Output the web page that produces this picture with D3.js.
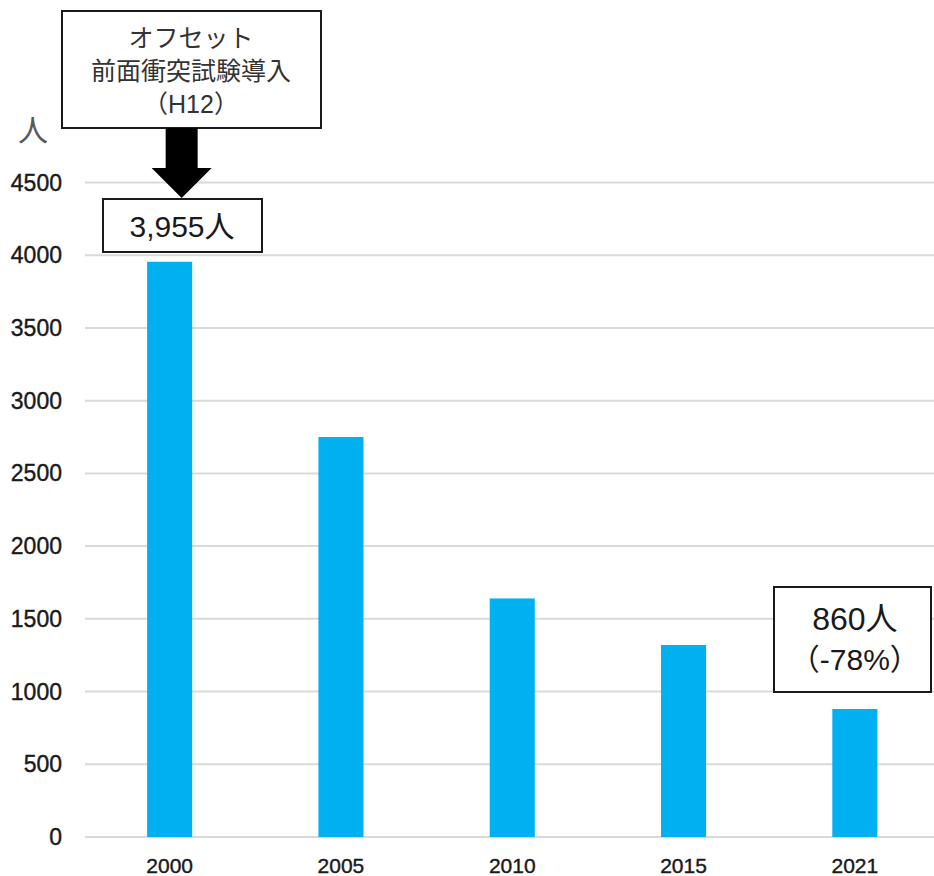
<!DOCTYPE html>
<html>
<head>
	<meta charset="utf-8">
	<title></title>
	<style>
		body { margin: 0; background: #fff; }
		svg text { font-family: "Liberation Sans", Arial, sans-serif; }
		.jp { font-family: "Liberation Sans", "Noto Sans CJK JP", sans-serif; }
		.grid line { stroke: #d9d9d9; stroke-width: 2; }
		.tick { fill: #1a1a1a; stroke: #1a1a1a; stroke-width: 0.4; }
	</style>
</head>
<body>
	<svg id="container" width="934" height="876"></svg>
</body>
<script src="https://d3js.org/d3.v7.min.js"></script>
<script>
	const years = ["2000", "2005", "2010", "2015", "2021"]
	const deaths = [3955, 2750, 1640, 1320, 880]
	const yTicks = [0, 500, 1000, 1500, 2000, 2500, 3000, 3500, 4000, 4500]
	const noteTop = ["オフセット", "前面衝突試験導入", "（H12）"]
	const noteFirst = "3,955人"
	const noteLast = ["860人", "（-78%）"]

	const svg = d3.select("#container")
	const data = years.map((y, i) => ({ year: y, value: deaths[i] }))

	let y = d3.scaleLinear()
		.domain([0, 4500])
		.range([837, 182.5])

	let x = d3.scaleBand()
		.domain(years)
		.range([84, 940.5])
		.paddingInner(0.737)
		.paddingOuter(0.3685)

	// gridlines
	svg.append("g").attr("class", "grid")
		.selectAll("line")
		.data(yTicks)
		.join("line")
		.attr("x1", 85).attr("x2", 934)
		.attr("y1", d => y(d)).attr("y2", d => y(d))

	// y labels
	svg.append("g")
		.selectAll("text")
		.data(yTicks)
		.join("text")
		.attr("class", "tick")
		.attr("x", 62)
		.attr("y", d => y(d))
		.attr("text-anchor", "end")
		.attr("dominant-baseline", "central")
		.attr("font-size", 23)
		.text(d => d)

	// unit
	svg.append("text")
		.attr("class", "jp")
		.attr("x", 33).attr("y", 130)
		.attr("text-anchor", "middle")
		.attr("dominant-baseline", "central")
		.attr("font-size", 30)
		.attr("fill", "#595959")
		.text("人")

	// bars
	svg.append("g")
		.selectAll("rect")
		.data(data)
		.join("rect")
		.attr("x", d => x(d.year))
		.attr("width", x.bandwidth())
		.attr("y", d => y(d.value))
		.attr("height", d => y(0) - y(d.value))
		.attr("fill", "#00b0f0")

	// x labels
	svg.append("g")
		.selectAll("text")
		.data(years)
		.join("text")
		.attr("class", "tick")
		.attr("x", d => x(d) + x.bandwidth() / 2)
		.attr("y", 865)
		.attr("text-anchor", "middle")
		.attr("dominant-baseline", "central")
		.attr("font-size", 21)
		.text(d => d)

	// top note box + arrow
	let cx0 = x(years[0]) + x.bandwidth() / 2 + 12
	svg.append("rect")
		.attr("x", 62).attr("y", 11).attr("width", 259).attr("height", 117)
		.attr("fill", "#fff").attr("stroke", "#1a1a1a").attr("stroke-width", 2)
	svg.append("g")
		.selectAll("text")
		.data(noteTop)
		.join("text")
		.attr("class", "jp")
		.attr("x", 191)
		.attr("y", (d, i) => 38 + i * 33)
		.attr("text-anchor", "middle")
		.attr("dominant-baseline", "central")
		.attr("font-size", 25)
		.attr("fill", "#333")
		.text(d => d)

	svg.append("path")
		.attr("d", d3.line()([
			[cx0 - 16, 128], [cx0 + 16, 128], [cx0 + 16, 168], [cx0 + 30, 168],
			[cx0, 198], [cx0 - 30, 168], [cx0 - 16, 168]
		]))
		.attr("fill", "#000")

	// 3,955 box
	svg.append("rect")
		.attr("x", 103).attr("y", 199).attr("width", 159).attr("height", 53)
		.attr("fill", "#fff").attr("stroke", "#1a1a1a").attr("stroke-width", 2)
	svg.append("text")
		.attr("class", "jp")
		.attr("x", 182).attr("y", 226)
		.attr("text-anchor", "middle")
		.attr("dominant-baseline", "central")
		.attr("font-size", 30)
		.attr("fill", "#1a1a1a")
		.text(noteFirst)

	// 860 box
	let cx4 = x(years[4]) + x.bandwidth() / 2
	svg.append("rect")
		.attr("x", 774).attr("y", 587).attr("width", 157).attr("height", 105)
		.attr("fill", "#fff").attr("stroke", "#1a1a1a").attr("stroke-width", 2)
	svg.append("g")
		.selectAll("text")
		.data(noteLast)
		.join("text")
		.attr("class", "jp")
		.attr("x", cx4)
		.attr("y", (d, i) => 619 + i * 40)
		.attr("text-anchor", "middle")
		.attr("dominant-baseline", "central")
		.attr("font-size", (d, i) => i === 0 ? 32 : 30)
		.attr("fill", "#1a1a1a")
		.text(d => d)
</script>
</html>
